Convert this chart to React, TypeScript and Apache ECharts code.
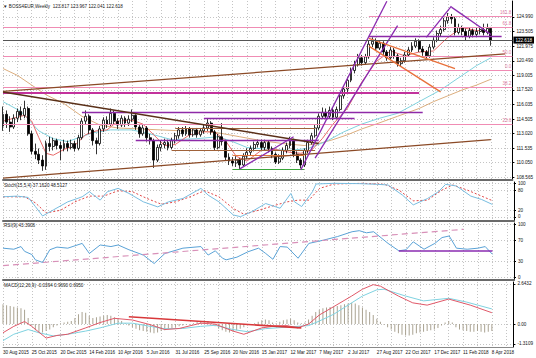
import { useEffect, useRef } from 'react';
import * as echarts from 'echarts';

const FONT = 'Liberation Sans, Arial, sans-serif';

const tickLabels = ['30 Aug 2015','25 Oct 2015','20 Dec 2015','14 Feb 2016','10 Apr 2016','5 Jun 2016','31 Jul 2016','25 Sep 2016','20 Nov 2016','15 Jan 2017','12 Mar 2017','7 May 2017','2 Jul 2017','27 Aug 2017','22 Oct 2017','17 Dec 2017','11 Feb 2018','8 Apr 2018'];
const priceTicks = [124.99,123.505,121.975,120.49,119.005,117.52,116.035,114.505,113.02,111.535,110.05,108.565];
const stochTicks = [100,80,20,0];
const rsiTicks = [100,70,30,0];
const macdTicks = [2.6432,0,-1.3109];

// [open, close, low, high]
const candles = [
[113.8,115.0,113.3,115.8],[115.0,114.2,113.6,115.4],[114.2,113.7,113.2,114.8],[113.7,114.6,113.5,115.0],[114.6,115.3,114.2,115.6],
[115.3,114.9,114.4,115.8],[114.9,115.6,114.6,116.4],[115.6,113.0,112.8,115.8],[113.0,111.2,110.9,113.3],[111.2,110.9,110.4,112.0],
[110.9,110.3,109.9,111.5],[110.3,109.7,109.2,110.8],[109.7,112.0,109.3,112.3],[112.0,111.7,111.2,112.7],[111.7,112.3,111.3,112.6],
[112.3,111.8,111.4,112.5],[111.8,111.5,110.3,112.2],[111.5,112.0,111.2,112.4],[112.0,111.6,111.2,112.3],[111.6,112.0,111.4,112.4],
[112.0,111.5,111.2,112.3],[111.5,112.6,111.3,112.9],[112.6,114.3,112.4,114.6],[114.3,114.8,114.0,115.4],[114.8,113.4,113.0,115.0],
[113.4,112.3,111.8,113.6],[112.3,112.0,110.9,112.6],[112.0,113.5,111.8,113.8],[113.5,114.4,113.2,114.7],[114.4,114.0,113.6,114.8],
[114.0,115.1,113.8,115.6],[115.1,114.3,114.0,115.4],[114.3,113.9,113.5,114.6],[113.9,114.6,113.7,114.9],[114.6,114.1,113.7,114.8],
[114.1,114.5,113.8,114.9],[114.5,114.9,114.2,115.5],[114.9,113.7,113.4,115.0],[113.7,113.0,112.6,113.9],[113.0,113.6,112.8,113.9],
[113.6,112.6,112.2,113.8],[112.6,112.3,111.9,113.0],[112.3,110.3,109.5,112.5],[110.3,111.6,110.1,111.9],[111.6,111.9,111.2,112.3],
[111.9,112.1,111.5,112.5],[112.1,111.6,111.3,112.4],[111.6,112.3,111.4,112.6],[112.3,112.8,112.0,113.1],[112.8,113.4,112.5,113.7],
[113.4,113.0,112.7,113.7],[113.0,113.5,112.8,113.8],[113.5,112.9,112.6,113.7],[112.9,113.4,112.7,113.6],[113.4,112.9,112.6,113.6],
[112.9,113.3,112.7,113.6],[113.3,113.6,113.0,113.9],[113.6,114.1,113.3,114.5],[114.1,113.2,112.9,114.3],[113.2,111.6,111.3,113.4],
[111.6,112.7,111.4,113.0],[112.7,112.2,111.8,114.1],[112.2,110.6,110.3,112.4],[110.6,110.2,109.8,111.0],[110.2,110.0,109.7,110.6],
[110.0,110.3,109.6,110.7],[110.3,109.8,109.4,110.5],[109.8,110.7,109.6,111.0],[110.7,111.1,110.4,111.5],[111.1,111.5,110.8,111.8],
[111.5,111.9,111.2,112.2],[111.9,112.1,111.6,112.4],[112.1,111.6,111.3,112.4],[111.6,112.1,111.3,112.4],[112.1,111.5,111.1,112.3],
[111.5,110.9,110.5,111.7],[110.9,110.1,109.9,111.1],[110.1,110.5,109.9,110.9],[110.5,111.3,110.3,111.6],[111.3,111.8,111.0,112.1],
[111.8,112.3,111.5,112.7],[112.3,110.9,110.6,112.5],[110.9,110.3,110.0,111.2],[110.3,109.8,109.45,110.5],[109.8,111.3,109.6,111.5],
[111.3,112.1,111.0,112.4],[112.1,112.8,111.9,113.1],[112.8,113.6,112.6,113.9],[113.6,114.8,113.4,115.1],[114.8,115.2,114.5,115.7],
[115.2,114.8,114.5,115.6],[114.8,115.4,114.6,115.8],[115.4,114.7,114.4,115.7],[114.7,115.5,114.5,115.8],[115.5,116.9,115.3,117.2],
[116.9,117.6,116.6,117.9],[117.6,118.5,117.3,118.8],[118.5,119.5,118.3,119.8],[119.5,120.1,119.2,120.5],[120.1,120.8,119.9,121.2],
[120.8,120.3,120.0,121.1],[120.3,120.9,120.1,121.2],[120.9,122.2,120.7,122.6],[122.2,122.5,121.9,122.9],[122.5,121.8,121.5,122.8],
[121.8,122.3,121.6,122.6],[122.3,121.4,121.1,122.5],[121.4,120.8,120.5,121.6],[120.8,121.6,120.6,121.9],[121.6,121.0,120.7,121.8],
[121.0,120.2,119.9,121.2],[120.2,120.5,119.9,120.8],[120.5,121.1,120.3,121.4],[121.1,121.6,120.9,121.9],[121.6,122.0,121.4,122.4],
[122.0,122.5,121.8,122.8],[122.5,121.7,121.4,122.7],[121.7,121.4,121.0,122.0],[121.4,121.0,120.7,121.6],[121.0,121.9,120.8,122.2],
[121.9,122.6,121.7,122.9],[122.6,123.3,122.4,123.6],[123.3,123.7,123.0,124.1],[123.7,124.6,123.5,124.9],[124.6,125.0,124.3,125.4],
[125.0,124.8,124.3,125.3],[124.8,123.4,123.1,125.0],[123.4,123.9,123.2,124.3],[123.9,123.5,123.1,124.1],[123.5,123.0,122.6,123.8],
[123.0,123.6,122.8,123.9],[123.6,123.2,122.9,123.8],[123.2,123.5,123.0,123.9],[123.5,123.7,123.2,124.0],[123.7,123.4,123.1,124.3],
[123.4,123.817,123.2,124.3],[123.817,122.618,122.041,123.967]
];

// moving averages read as [week index, value]
const maTan = [[0,119.7],[4,119.0],[8,118.0],[12,117.0],[17,116.1],[22,114.8],[27,113.9],[32,113.6],[38,113.5],[44,113.4],[50,113.3],[55,113.3],[60,113.1],[66,112.7],[72,112.3],[78,112.0],[84,111.8],[88,112.0],[92,112.4],[96,112.9],[100,113.5],[104,114.0],[110,114.8],[116,115.6],[120,116.3],[124,116.9],[128,117.5],[132,118.0],[136,118.6]];
const maCyan = [[0,116.3],[5,115.3],[10,113.3],[14,112.5],[18,112.2],[25,113.1],[30,113.4],[36,113.4],[42,112.9],[47,112.4],[54,112.5],[60,112.7],[64,112.2],[68,111.6],[74,111.4],[80,111.3],[85,111.5],[90,112.2],[95,113.2],[100,114.0],[105,114.6],[110,115.1],[116,116.3],[122,117.5],[128,119.0],[132,120.0],[136,120.8]];
const maRed = [[0,114.3],[3,114.6],[6,114.9],[8,114.3],[10,112.6],[12,111.0],[14,110.8],[17,111.4],[20,111.8],[23,112.9],[26,113.3],[29,113.4],[32,114.3],[36,114.4],[39,114.0],[42,112.9],[45,111.8],[48,111.9],[52,112.9],[56,113.2],[59,113.2],[62,112.3],[65,110.7],[68,110.2],[72,111.3],[76,111.4],[80,111.1],[83,111.0],[86,111.3],[89,112.5],[92,114.0],[96,115.6],[100,118.3],[104,120.4],[108,121.5],[112,121.0],[116,121.4],[120,121.5],[124,122.9],[128,123.9],[132,123.6],[136,123.5]];

const stochMain = [[0,60],[4,62],[7,58],[9,31],[11,3],[14,21],[18,45],[22,60],[24,75],[27,50],[29,75],[32,85],[35,70],[39,45],[43,30],[46,45],[50,55],[55,85],[57,65],[60,45],[64,6],[66,1],[69,15],[73,40],[77,26],[80,70],[81,45],[83,31],[86,75],[87,98],[92,100],[99,99],[104,97],[107,95],[111,65],[114,36],[118,55],[121,75],[123,97],[126,92],[130,62],[133,52],[136,37.16]];
const stochSignal = [[0,60],[6,60],[9,42],[12,12],[16,20],[20,45],[24,62],[28,62],[32,78],[36,75],[40,55],[44,38],[48,45],[52,60],[56,78],[60,60],[64,25],[67,8],[71,20],[75,33],[79,45],[82,50],[85,50],[88,85],[92,98],[100,100],[106,97],[110,80],[114,48],[118,50],[122,80],[125,95],[129,80],[133,62],[136,48.51]];
const rsiLine = [[0,55],[3,53],[5,58],[6,49],[8,43],[9,33],[11,28],[13,52],[15,57],[18,55],[22,64],[24,45],[27,61],[30,58],[32,61],[35,52],[39,42],[42,26],[45,45],[50,55],[55,58],[57,42],[59,50],[61,36],[62,33],[65,38],[68,48],[71,55],[73,45],[75,34],[77,58],[79,57],[82,36],[85,64],[87,67],[89,70],[93,77],[97,86],[99,88],[101,84],[103,86],[107,64],[110,50],[112,52],[114,67],[117,53],[120,64],[122,75],[124,78],[126,55],[129,53],[132,55],[134,58],[136,43.39]];
const macdHist = [1.30,1.25,1.20,1.15,1.10,1.05,0.95,0.40,-0.10,-0.40,-0.55,-0.55,-0.45,-0.35,-0.20,-0.10,0.05,0.10,0.15,0.20,0.40,0.65,0.80,0.75,0.55,0.40,0.45,0.50,0.55,0.60,0.55,0.45,0.35,0.20,0.05,-0.10,-0.20,-0.30,-0.40,-0.45,-0.50,-0.55,-0.60,-0.55,-0.45,-0.40,-0.30,-0.25,-0.20,-0.15,-0.10,-0.05,0.00,0.05,0.15,0.20,0.25,0.20,0.05,-0.15,-0.30,-0.40,-0.50,-0.55,-0.50,-0.40,-0.30,-0.20,-0.10,-0.05,0.05,0.15,0.25,0.30,0.25,0.10,0.05,0.15,0.25,0.30,0.35,0.25,0.10,0.05,0.10,0.30,0.55,0.80,0.95,1.05,1.10,1.12,1.15,1.20,1.25,1.30,1.35,1.40,1.35,1.25,1.10,0.95,0.80,0.60,0.35,0.15,-0.05,-0.20,-0.35,-0.50,-0.60,-0.70,-0.75,-0.75,-0.70,-0.60,-0.55,-0.50,-0.45,-0.40,-0.35,-0.25,-0.10,0.10,0.20,0.10,-0.20,-0.35,-0.40,-0.45,-0.50,-0.50,-0.45,-0.50,-0.55,-0.50,-0.45];
const macdRed = [[0,-0.57],[3,-0.15],[6,0.17],[8,-0.15],[12,-0.92],[15,-0.75],[18,-0.67],[23,-0.25],[27,0.1],[31,0.38],[36,0.27],[41,-0.04],[45,-0.36],[49,-0.29],[55,0.06],[59,0],[64,-0.46],[67,-0.67],[72,-0.25],[76,-0.12],[79,-0.1],[82,-0.25],[85,0],[88,0.6],[92,1.15],[97,1.85],[100,2.3],[103,2.6],[105,2.5],[110,1.85],[114,1.4],[118,1.25],[124,1.65],[130,1.25],[136,0.75]];
const macdCyan = [[0,-1.09],[3,-0.67],[7,-0.36],[10,-0.57],[14,-0.78],[18,-0.67],[23,-0.46],[27,-0.25],[32,0.06],[36,0.06],[41,-0.15],[45,-0.31],[50,-0.29],[55,-0.15],[59,-0.08],[64,-0.36],[68,-0.5],[73,-0.3],[79,-0.2],[85,-0.1],[88,0.2],[92,0.65],[97,1.4],[100,1.85],[104,2.26],[106,2.3],[112,1.85],[117,1.53],[124,1.7],[129,1.45],[136,1.0]];

// drawn objects: [startWeek, endWeek, price, label]
const fibLevels: [number, number, number, string][] = [[102,142,125.05,'161.8'],[0,142,123.95,'61.8'],[0,142,120.95,'50.0'],[101,142,119.55,'0.0'],[0,142,117.8,'38.2'],[0,142,114.0,'23.6']];
const purpleLevels = [[102,139,122.97],[22,117,115.17],[56,98,114.55],[37,88,112.33]];
const magentaLevels = [[0,116,117.22]];
const brownLevels = [[48,87,113.6],[47,87,111.33]];
const orangeLevels = [[64,84,110.8]];
const greenLevels = [[64,84,109.35]];
const brownTrends = [[[0,108.45],[136,112.4]],[[0,117.35],[140,121.2]]];
const darkTrends = [[[0,117.3],[88,112.0]]];
const purpleTrends = [[[83,109.3],[107,126.6]],[[87,110.5],[110,124.1]],[[66,109.4],[81,112.7]],[[118,122.9],[125,126.1]],[[125,126.0],[136,123.2]]];
const orangeTrends = [[[102,122.8],[126,119.7]],[[102,122.0],[122,117.3]]];
const rsiTrend = [[0,22],[128,90.6]];
const rsiLevel = [[110,50.3],[136,50.3]];
const macdTrend = [[35,0.48],[83,-0.25]];
const lastPrice = 122.618;

const EXTRA_WEEKS = 6;

function buildOption() {
  const n = candles.length + EXTRA_WEEKS;
  const cats = Array.from({ length: n }, (_, i) => String(i));
  const grids = [
    { left: 3, right: 22, top: 1, height: 179 },
    { left: 3, right: 22, top: 182, height: 39 },
    { left: 3, right: 22, top: 223, height: 57 },
    { left: 3, right: 22, top: 282, height: 65 },
  ];
  const gridLine = { show: true, lineStyle: { color: '#c4c4c4', type: [1, 2] as any, width: 1 } };
  const xAxes = grids.map((_, k) => ({
    type: 'category', gridIndex: k, data: cats, boundaryGap: false,
    axisTick: { show: false },
    axisLine: { show: true, onZero: false, lineStyle: { color: k === 3 ? '#888' : '#6a6a6a', width: k === 3 ? 1 : 2 } },
    splitLine: { ...gridLine, interval: 3 },
    axisLabel: k === 3 ? {
      show: true, interval: 7, align: 'left', margin: 3, fontSize: 4.6, color: '#111', fontFamily: FONT,
      formatter: (_v: string, idx: number) => tickLabels[idx / 8] ?? '',
    } : { show: false },
  }));
  const yBase = (k: number, min: number, max: number, ticks: number[], fmt: (v: number) => string) => ({
    type: 'value', gridIndex: k, position: 'right', min, max, scale: true,
    axisLine: { show: true, lineStyle: { color: '#000', width: 1 } },
    axisTick: { show: true, length: 2, customValues: ticks, lineStyle: { color: '#000' } },
    axisLabel: { show: true, customValues: ticks, formatter: fmt, fontSize: 4.6, color: '#111', margin: 4, fontFamily: FONT },
    splitLine: gridLine,
  });
  const yAxes = [
    yBase(0, 108.26, 126.63, priceTicks, (v) => v.toFixed(3)),
    yBase(1, -11.9, 103.9, stochTicks, (v) => String(v)),
    yBase(2, -5.1, 102.5, rsiTicks, (v) => String(v)),
    yBase(3, -1.51, 2.775, macdTicks, (v) => (v === 0 ? '0.00' : v.toFixed(4))),
  ];

  const seg = (a: number[], b: number[], color: string, width = 1, type: any = 'solid') => [
    { coord: a, lineStyle: { color, width, type } }, { coord: b },
  ];
  const level = (l: number[], color: string, width = 1) => seg([l[0], l[2]], [l[1], l[2]], color, width);

  const mainMarks: any[] = [
    ...fibLevels.map((f) => [
      { coord: [f[0], f[2]], lineStyle: { color: '#f08cb4', width: 1, type: 'solid' },
        label: { show: true, position: 'insideEndTop', formatter: f[3], color: '#e07aa0', fontSize: 4.6, fontFamily: FONT, distance: 1 } },
      { coord: [f[1], f[2]] },
    ]),
    ...magentaLevels.map((l) => level(l, '#c2329c', 2)),
    ...purpleLevels.map((l) => level(l, '#8e2aa8', 1.3)),
    ...brownLevels.map((l) => level(l, '#a0623a', 1.2)),
    ...orangeLevels.map((l) => level(l, '#e27a3e', 1.2)),
    ...greenLevels.map((l) => level(l, '#3aa63a', 1.2)),
    ...brownTrends.map((t) => seg(t[0], t[1], '#8b4a26', 1.3)),
    ...darkTrends.map((t) => seg(t[0], t[1], '#5a3018', 1.5)),
    ...purpleTrends.map((t) => seg(t[0], t[1], '#8a2bb0', 1.3)),
    ...orangeTrends.map((t) => seg(t[0], t[1], '#e8703a', 1.3)),
    { yAxis: lastPrice, lineStyle: { color: '#555', width: 1, type: 'solid' },
      label: { show: true, position: 'end', formatter: lastPrice.toFixed(3), backgroundColor: '#000', color: '#fff', fontSize: 4.6, fontFamily: FONT, padding: [1, 2, 1, 2], distance: 1 } },
  ];

  const lineS = (data: any, xi: number, color: string, width = 1, type: any = 'solid', z = 3) => ({
    type: 'line', xAxisIndex: xi, yAxisIndex: xi, data, symbol: 'none', silent: true, z,
    lineStyle: { color, width, type },
  });

  return {
    animation: false,
    backgroundColor: '#fff',
    title: [
      { text: '▼ BOSS4EUR,Weekly  123.817 123.967 122.041 122.618', left: 3, top: 4 },
      { text: 'Stoch(15,5,4) 37.1620 48.5127', left: 4, top: 183 },
      { text: 'RSI(9) 43.3906', left: 4, top: 223 },
      { text: 'MACD(12,26,9) -0.0394 0.9690 0.6950', left: 4, top: 283 },
    ].map((t) => ({ ...t, padding: 0, textStyle: { fontSize: 4.6, fontWeight: 'normal', color: '#222', fontFamily: FONT } })),
    grid: grids,
    xAxis: xAxes,
    yAxis: yAxes,
    series: [
      lineS(maTan, 0, '#dcae7e', 1, 'solid', 2),
      lineS(maCyan, 0, '#80d2de', 1, 'solid', 2),
      lineS(maRed, 0, '#e86a6a', 1, 'solid', 2),
      {
        type: 'candlestick', xAxisIndex: 0, yAxisIndex: 0, data: candles, barWidth: 2.4, z: 3,
        itemStyle: { color: '#fff', color0: '#000', borderColor: '#000', borderColor0: '#000', borderWidth: 0.8 },
        markLine: { silent: true, symbol: ['none', 'none'], animation: false, label: { show: false }, data: mainMarks, z: 4 },
      },
      lineS(stochSignal, 1, '#e04848', 1, [2, 2]),
      lineS(stochMain, 1, '#78bde0', 1),
      {
        ...lineS(rsiLine, 2, '#5aa2d6', 1),
        markLine: { silent: true, symbol: ['none', 'none'], label: { show: false }, data: [
          seg(rsiTrend[0], rsiTrend[1], '#d890b8', 1.2, [6, 4]),
          seg(rsiLevel[0], rsiLevel[1], '#8a2bb0', 1.5),
        ] },
      },
      { type: 'bar', xAxisIndex: 3, yAxisIndex: 3, data: macdHist, barWidth: 1, silent: true, itemStyle: { color: '#aaa392' } },
      lineS(macdCyan, 3, '#7fd2e0', 1),
      {
        ...lineS(macdRed, 3, '#e05868', 1),
        markLine: { silent: true, symbol: ['none', 'none'], label: { show: false }, data: [
          seg(macdTrend[0], macdTrend[1], '#d8383a', 1.6),
        ] },
      },
    ],
  };
}

export default function App() {
  const ref = useRef<HTMLDivElement>(null);
  useEffect(() => {
    const chart = echarts.init(ref.current!, null, { renderer: 'svg' });
    chart.setOption(buildOption() as any);
    return () => chart.dispose();
  }, []);
  return <div ref={ref} style={{ position: 'fixed', left: 0, top: 0, width: 536, height: 358, background: '#fff' }} />;
}
